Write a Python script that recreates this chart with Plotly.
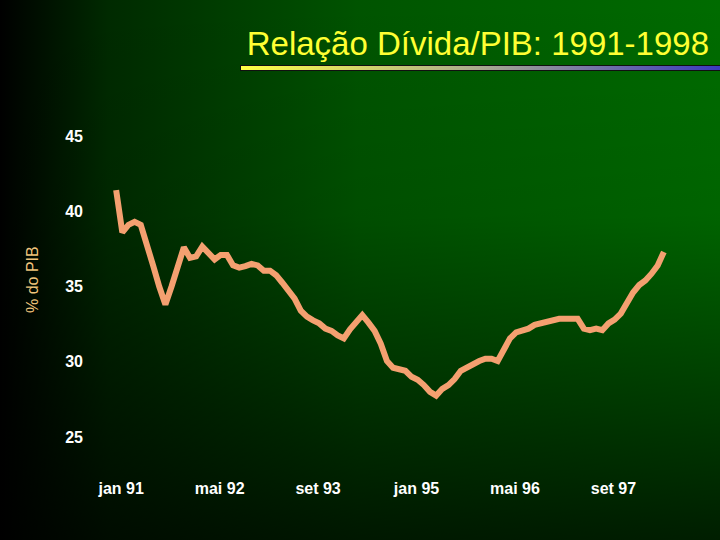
import base64
import plotly.graph_objects as go

# Monthly debt/GDP ratio (% of GDP), jan 1991 .. jun 1998
months = list(range(90))
debt_ratio = [
    41.4, 38.6, 39.1, 39.3, 39.1, 37.9, 36.4, 35.0, 33.8, 35.0,
    36.3, 37.6, 36.9, 37.0, 37.65, 37.2, 36.8, 37.1, 37.1, 36.4,
    36.25, 36.35, 36.5, 36.4, 36.05, 36.05, 35.75, 35.25, 34.7, 34.2,
    33.4, 33.0, 32.75, 32.55, 32.2, 32.05, 31.75, 31.55, 32.15, 32.65,
    33.1, 32.6, 32.05, 31.2, 30.05, 29.6, 29.5, 29.4, 29.0, 28.8,
    28.45, 28.0, 27.75, 28.2, 28.45, 28.85, 29.4, 29.65, 29.85, 30.05,
    30.2, 30.2, 30.05, 30.85, 31.55, 31.95, 32.05, 32.2, 32.45, 32.55,
    32.75, 32.85, 32.85, 32.85, 32.9, 32.85, 32.2, 32.1, 32.2, 32.1,
    32.55, 32.8, 33.2, 33.95, 34.6, 35.1, 35.4, 35.85, 36.4, 37.3,
]
x_tick_vals = [0, 16, 32, 48, 64, 80]
x_tick_text = ["jan 91", "mai 92", "set 93", "jan 95", "mai 96", "set 97"]
y_tick_vals = [25, 30, 35, 40, 45]

W, H = 720, 540
L, R, T, B = 110, 50, 136, 103
pw, ph = W - L - R, H - T - B

svg = f'''<svg xmlns="http://www.w3.org/2000/svg" width="{W}" height="{H}" viewBox="0 0 {W} {H}" preserveAspectRatio="none">
<defs>
<linearGradient id="h" x1="0" y1="0" x2="1" y2="0">
<stop offset="0" stop-color="#000000"/>
<stop offset="0.15" stop-color="#002a00"/>
<stop offset="0.5" stop-color="#005400"/>
<stop offset="1" stop-color="#006c00"/>
</linearGradient>
<linearGradient id="v" x1="0" y1="0" x2="0" y2="1">
<stop offset="0" stop-color="#000" stop-opacity="0"/>
<stop offset="0.4" stop-color="#000" stop-opacity="0.08"/>
<stop offset="1" stop-color="#000" stop-opacity="0.72"/>
</linearGradient>
<linearGradient id="u" x1="0" y1="0" x2="1" y2="0">
<stop offset="0" stop-color="#ffff44"/>
<stop offset="0.5" stop-color="#a8a890"/>
<stop offset="1" stop-color="#3838c0"/>
</linearGradient>
</defs>
<rect width="{W}" height="{H}" fill="url(#h)"/>
<rect width="{W}" height="{H}" fill="url(#v)"/>
<rect x="240.5" y="65.5" width="485" height="5" fill="url(#u)" stroke="#101010" stroke-width="1"/>
</svg>'''
bg_src = "data:image/svg+xml;base64," + base64.b64encode(svg.encode()).decode()

FONT = "Liberation Sans, Arial, sans-serif"

fig = go.Figure()
fig.add_trace(go.Scatter(
    x=months, y=debt_ratio, mode="lines",
    line=dict(color="#f4a070", width=6),
    hoverinfo="skip", showlegend=False,
))

fig.update_layout(
    width=W, height=H,
    margin=dict(l=L, r=R, t=T, b=B),
    paper_bgcolor="#000000",
    plot_bgcolor="rgba(0,0,0,0)",
    images=[dict(
        source=bg_src, xref="paper", yref="paper",
        x=-L / pw, y=1 + T / ph, sizex=W / pw, sizey=H / ph,
        xanchor="left", yanchor="top", sizing="stretch", layer="below",
    )],
    title=dict(
        text="Relação Dívida/PIB: 1991-1998",
        font=dict(family=FONT, size=33, color="#ffff33"),
        x=709 / W, xanchor="right", xref="container",
        y=1 - 43 / H, yanchor="middle", yref="container",
    ),
    xaxis=dict(
        range=[-1, 90], showgrid=False, zeroline=False, showline=False,
        tickmode="array", tickvals=x_tick_vals, ticktext=x_tick_text,
        ticks="", ticklabelstandoff=40, ticklabelshift=5,
        tickfont=dict(family=FONT, size=16, color="#ffffff", weight="bold"),
    ),
    yaxis=dict(
        range=[25, 45], showgrid=False, zeroline=False, showline=False,
        tickmode="array", tickvals=y_tick_vals,
        ticks="", ticklabelstandoff=26,
        tickfont=dict(family=FONT, size=16, color="#ffffff", weight="bold"),
    ),
    annotations=[dict(
        text="% do PIB", textangle=-90, showarrow=False,
        xref="paper", yref="paper",
        x=(32 - L) / pw, y=(H - B - 280) / ph,
        xanchor="center", yanchor="middle",
        font=dict(family=FONT, size=16, color="#f0c47c"),
    )],
)

fig.write_html(
    "out.html",
    config={"displayModeBar": False},
    post_script="document.body.style.margin='0';document.body.style.overflow='hidden';",
)
